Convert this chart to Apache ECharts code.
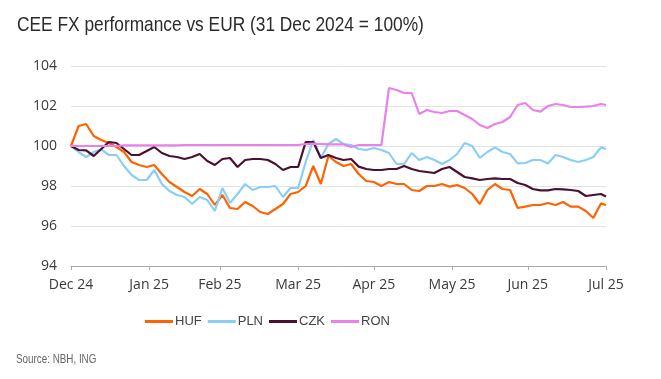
<!DOCTYPE html>
<html>
<head>
<meta charset="utf-8">
<script src="https://cdn.jsdelivr.net/npm/echarts@6/dist/echarts.min.js"></script>
<style>
html,body{margin:0;padding:0;background:#fff;}
#chart{width:661px;height:379px;}
</style>
</head>
<body>
<div id="chart"></div>
<script>
const dates = [
'2024-12-31','2025-01-03','2025-01-06','2025-01-09','2025-01-12','2025-01-15','2025-01-18','2025-01-21','2025-01-24','2025-01-27',
'2025-01-30','2025-02-02','2025-02-05','2025-02-08','2025-02-11','2025-02-14','2025-02-17','2025-02-20','2025-02-23','2025-02-26',
'2025-03-01','2025-03-04','2025-03-07','2025-03-10','2025-03-13','2025-03-16','2025-03-19','2025-03-22','2025-03-25','2025-03-28',
'2025-03-31','2025-04-03','2025-04-06','2025-04-09','2025-04-12','2025-04-15','2025-04-18','2025-04-21','2025-04-24','2025-04-27',
'2025-04-30','2025-05-03','2025-05-06','2025-05-09','2025-05-12','2025-05-15','2025-05-18','2025-05-21','2025-05-24','2025-05-27',
'2025-05-30','2025-06-02','2025-06-05','2025-06-08','2025-06-11','2025-06-14','2025-06-17','2025-06-20','2025-06-23','2025-06-26',
'2025-06-29','2025-07-02','2025-07-05','2025-07-08','2025-07-11','2025-07-14','2025-07-17','2025-07-20','2025-07-23','2025-07-26',
'2025-07-29','2025-07-31'
];

const huf = [
100.0,101.0,101.1,100.5,100.3,100.15,99.95,99.7,99.2,99.05,
98.95,99.05,98.6,98.2,97.95,97.7,97.5,97.85,97.6,97.05,
97.55,96.9,96.85,97.2,97.0,96.7,96.6,96.85,97.1,97.6,
97.7,98.0,99.0,98.1,99.5,99.2,99.0,99.1,98.6,98.25,
98.2,98.0,98.2,98.1,98.1,97.8,97.75,98.0,98.0,98.1,
97.97,98.05,97.9,97.6,97.1,97.8,98.1,97.85,97.8,96.9,
96.97,97.05,97.05,97.15,97.05,97.2,96.97,96.97,96.75,96.4,
97.13,97.05
];

const pln = [
100.0,99.7,99.45,99.7,99.83,99.55,99.55,99.0,98.55,98.3,
98.3,98.8,98.1,97.75,97.55,97.45,97.1,97.45,97.3,96.75,
97.9,97.15,97.6,98.1,97.8,97.95,97.95,98.0,97.45,97.9,
97.9,99.2,100.3,99.4,100.1,100.35,100.1,100.05,99.85,99.8,
99.9,99.8,99.65,99.1,99.1,99.65,99.3,99.45,99.3,99.1,
99.3,99.6,100.15,100.0,99.4,99.7,99.93,99.7,99.6,99.13,
99.15,99.3,99.3,99.13,99.55,99.45,99.3,99.2,99.3,99.45,
99.93,99.85
];

const czk = [
100.0,99.8,99.78,99.5,99.85,100.2,100.15,99.85,99.55,99.55,
99.75,99.95,99.65,99.5,99.45,99.35,99.45,99.6,99.25,99.05,
99.35,99.4,98.95,99.3,99.35,99.35,99.3,99.1,98.8,98.95,
98.95,100.2,100.2,99.4,99.55,99.4,99.3,99.35,98.97,98.85,
98.8,98.8,98.85,98.85,99.0,98.85,98.75,98.7,98.65,98.85,
98.95,98.7,98.45,98.38,98.3,98.35,98.38,98.35,98.35,98.15,
98.05,97.85,97.78,97.78,97.85,97.83,97.8,97.75,97.5,97.55,
97.6,97.47
];

const ron = [
100.0,100.0,100.0,100.0,100.0,100.0,100.0,100.03,100.03,100.03,
100.03,100.03,100.03,100.03,100.03,100.05,100.05,100.05,100.05,100.05,
100.05,100.05,100.05,100.05,100.05,100.05,100.05,100.05,100.05,100.05,
100.05,100.1,100.12,100.1,100.08,100.08,100.08,99.95,100.05,100.05,
100.05,100.05,102.9,102.8,102.65,102.65,101.6,101.8,101.7,101.65,
101.75,101.75,101.55,101.35,101.05,100.9,101.1,101.2,101.45,102.05,
102.15,101.8,101.72,102.0,102.1,102.05,101.95,101.95,101.97,102.0,
102.1,102.05
];

const tickDates = ['2024-12-31','2025-01-31','2025-02-28','2025-03-31','2025-04-30','2025-05-31','2025-06-30','2025-07-31'];
const tickLabels = ['Dec 24','Jan 25','Feb 25','Mar 25','Apr 25','May 25','Jun 25','Jul 25'];
const yTicks = [94, 96, 98, 100, 102, 104];

const seriesNames = ['HUF','PLN','CZK','RON'];
const seriesColors = ['#FF6200','#89CFF5','#4A1030','#EA80EA'];
const titleText = 'CEE FX performance vs EUR (31 Dec 2024 = 100%)';
const sourceText = 'Source: NBH, ING';

// convert a date string to a day offset from the first date (x position on a linear day axis)
function dayOf(s){
  const p = s.split('-').map(Number);
  const q = tickDates[0].split('-').map(Number);
  return Math.round((Date.UTC(p[0], p[1]-1, p[2]) - Date.UTC(q[0], q[1]-1, q[2])) / 86400000);
}
const tickDays = tickDates.map(dayOf);
const labelMap = {};
tickDays.forEach((t,i)=>{ labelMap[t] = tickLabels[i]; });

function pairs(vals){ return dates.map((d,i)=>[dayOf(d), vals[i]]); }
const allVals = [huf, pln, czk, ron];
const sans = "'Liberation Sans',Arial,sans-serif";

const chart = echarts.init(document.getElementById('chart'), null, {renderer:'canvas'});
chart.setOption({
  animation: false,
  backgroundColor: '#ffffff',
  legend: {
    left: 145, top: 315, padding: 0,
    itemWidth: 28, itemHeight: 3, itemGap: 6, icon: 'rect',
    data: seriesNames,
    textStyle: {fontFamily: sans, fontSize: 13, color: '#444', padding: [0,0,0,-3]}
  },
  graphic: [
    {
      type: 'text', x: 17, y: 25, scaleX: 0.825,
      style: {text: titleText, font: "21px " + sans, fill: '#2b2b2b', verticalAlign: 'middle', align: 'left'}
    },
    {
      type: 'text', x: 16, y: 360, scaleX: 0.82,
      style: {text: sourceText, font: "12px " + sans, fill: '#666', verticalAlign: 'middle', align: 'left'}
    }
  ],
  grid: {left: 71, right: 55, top: 66, bottom: 113, containLabel: false},
  xAxis: {
    type: 'value',
    min: tickDays[0], max: tickDays[tickDays.length-1],
    axisLine: {show: true, lineStyle: {color: '#aaaaaa', width: 1}},
    axisTick: {show: true, length: 4, lineStyle: {color: '#aaaaaa'}, customValues: tickDays},
    axisLabel: {
      customValues: tickDays,
      formatter: function(v){ return labelMap[v] !== undefined ? labelMap[v] : ''; },
      fontFamily: "'Open Sans',sans-serif", fontSize: 14, color: '#3a3a3a', margin: 12
    },
    splitLine: {show: false}
  },
  yAxis: {
    type: 'value', min: yTicks[0], max: yTicks[yTicks.length-1], interval: 2,
    axisLine: {show: false}, axisTick: {show: false},
    axisLabel: {fontFamily: "'Open Sans',sans-serif", fontSize: 14, color: '#3a3a3a', margin: 14},
    splitLine: {show: true, lineStyle: {color: '#e3e3e3', width: 1}}
  },
  series: seriesNames.map((n,i)=>({
    name: n, type: 'line', symbol: 'none', showSymbol: false,
    data: pairs(allVals[i]),
    lineStyle: {color: seriesColors[i], width: 2.2},
    itemStyle: {color: seriesColors[i]},
    z: 2 + i
  }))
});
</script>
</body>
</html>
